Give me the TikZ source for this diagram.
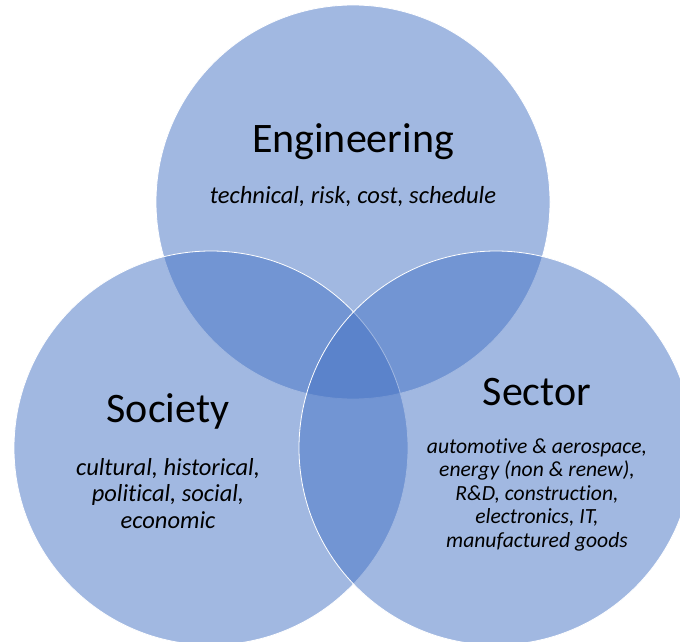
\documentclass[tikz,border=0pt]{standalone}
\usepackage{fontspec}
\setmainfont{Carlito}[Ligatures=NoCommon]
\definecolor{vennblue}{HTML}{4472C4}
\begin{document}
\begin{tikzpicture}[x=1pt,y=-1pt,
    venn/.style={fill=vennblue,fill opacity=0.5,draw=white,line width=0.8pt},
    title/.style={anchor=base,inner sep=0pt,font=\fontsize{42}{50}\selectfont},
    topics/.style 2 args={anchor=base,inner sep=0pt,align=center,font=\fontsize{#1}{#2}\selectfont\itshape}]
  \useasboundingbox (0,0) rectangle (680,642);
  \clip (0,0) rectangle (680,642);
  % the three fields
  \draw[venn] (353,202) circle (197);
  \draw[venn] (211,448) circle (197);
  \draw[venn] (496,448) circle (197);
  % labels (multi-line nodes sit on their last baseline)
  \node[title] (eng) at (353,152) {Engineering};
  \node[topics={24.6}{26.5}] (engtxt) at (353,203) {technical, risk, cost, schedule};
  \node[title] (soc) at (168,422) {Society};
  \node[topics={24.5}{26.5}] (soctxt) at (168,528)
    {cultural, historical,\\ political, social,\\ economic};
  \node[title] (sec) at (537,405) {Sector};
  \node[topics={21.6}{23.5}] (sectxt) at (537,547)
    {automotive \& aerospace,\\ energy (non \& renew),\\ R\&D, construction,\\
     electronics, IT,\\ manufactured goods};
\end{tikzpicture}
\end{document}
